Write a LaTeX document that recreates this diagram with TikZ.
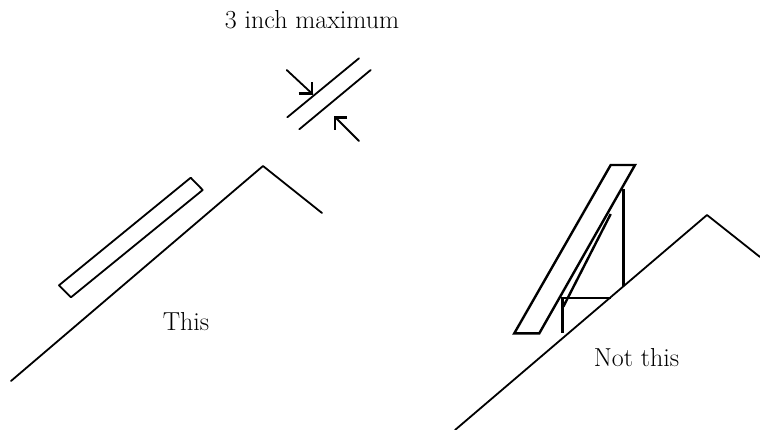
\documentclass[tikz,border=0pt]{standalone}
\tikzset{
  ln/.style={draw=black,line width=1.8pt,line cap=round,line join=round},
  thick ln/.style={draw=black,line width=2.4pt,line cap=butt,line join=miter},
  head ln/.style={draw=black,line width=2.8pt,line cap=butt,line join=miter},
  lbl/.style={inner sep=0pt,anchor=base,font=\fontsize{26}{30}\selectfont}
}
\begin{document}
\begin{tikzpicture}[x=1pt,y=-1pt]
\useasboundingbox (0,0) rectangle (760,430);
\node[lbl] (t1) at (312,29) {3 inch maximum};
\node[lbl] (t2) at (186,330) {This};
\node[lbl] (t3) at (636.5,366) {Not this};
% gap sketch
\draw[ln] (287.3,117.3) -- (359,58.3);
\draw[ln] (299.3,129.3) -- (370.7,70);
\draw[ln] (286.7,70) -- (312.5,94);
\draw[head ln] (298.5,93.5) -- (312,93.5) -- (312,82);
\draw[ln] (359,141) -- (335,117);
\draw[head ln] (347,117.3) -- (335,117.3) -- (335,130);
% left
\draw[ln] (190.7,177.7) -- (202.7,190) -- (71,297.3) -- (59,285.3) -- cycle;
\draw[ln] (11,381) -- (263,166) -- (322,213);
% right
\draw[ln] (455,430) -- (707,215) -- (760,257);
\draw[thick ln] (610.7,165) -- (635,165) -- (539.3,333.3) -- (514.3,333.3) -- cycle;
\draw[thick ln] (623.3,189.3) -- (623.3,286);
\draw[thick ln] (610.7,297.7) -- (562.3,297.7) -- (562.3,333.3);
\draw[thick ln] (610.7,214) -- (563.3,306.7);
\end{tikzpicture}
\end{document}
